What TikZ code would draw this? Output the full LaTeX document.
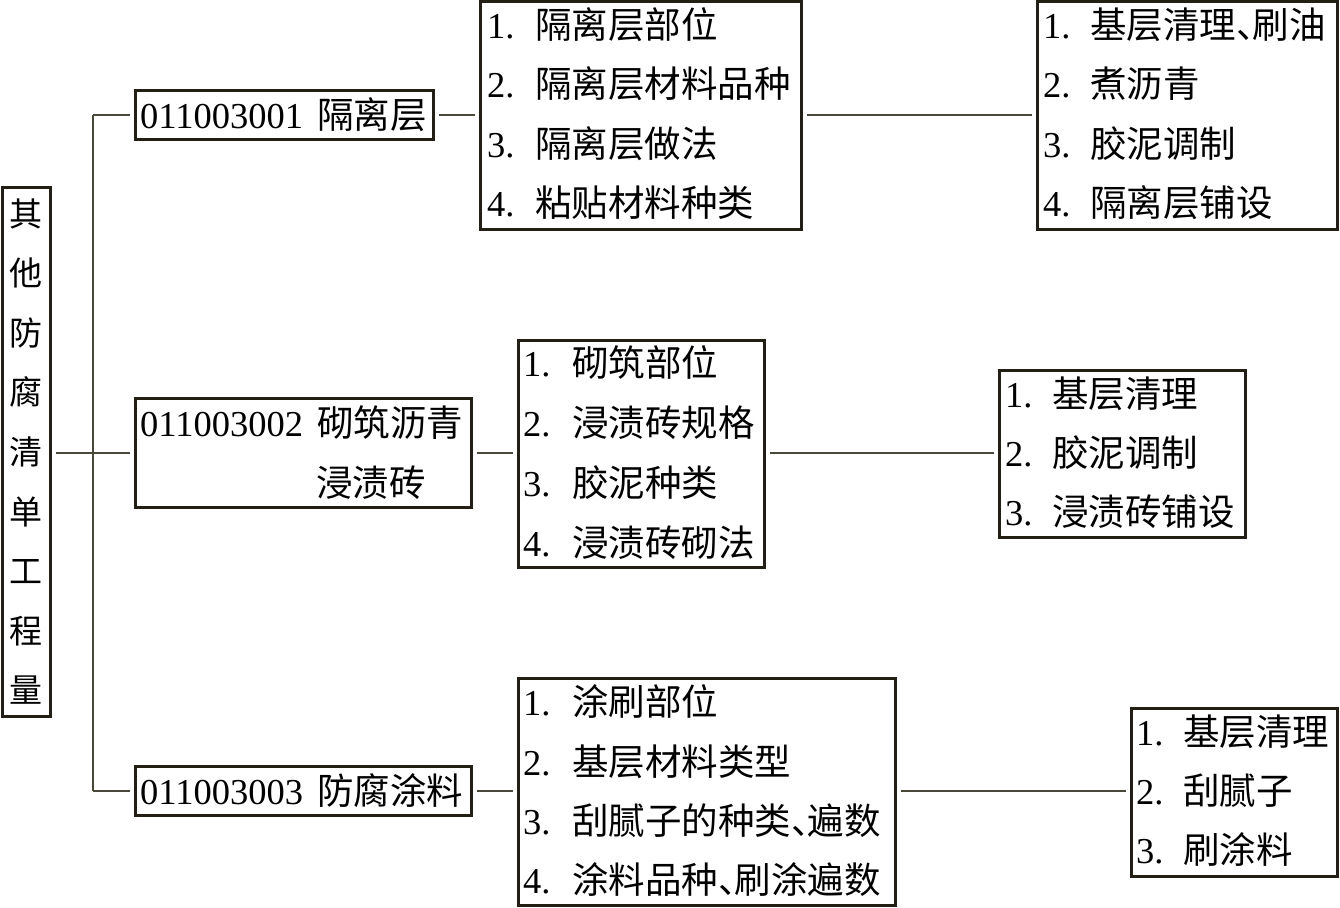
\documentclass[tikz,border=0pt]{standalone}
\usepackage{fontspec}
\setmainfont{Liberation Serif}
\newfontfamily\cjk{Noto Sans CJK SC}
\definecolor{boxc}{HTML}{231F14}
\definecolor{linec}{HTML}{4A4838}
\newcommand{\fs}{\fontsize{36.5pt}{59.6pt}\selectfont}
\newcommand{\dun}{\makebox[0.45em][l]{、}}
\tikzset{
  box/.style={draw=boxc, line width=3pt, inner sep=0pt, rectangle},
  conn/.style={draw=linec, line width=1.5pt, shorten <=4pt, shorten >=4pt},
  conn0/.style={draw=linec, line width=1.5pt},
  txt/.style={anchor=west, inner sep=0pt, font=\fs, text height=30pt, text depth=4pt},
}
\newcommand{\itm}[3]{\makebox[#1][l]{#2}{\cjk #3}}
\begin{document}
\begin{tikzpicture}[x=1pt,y=-1pt]
\useasboundingbox (0,0) rectangle (1340,907);
% root
\node[box, minimum width=48pt, minimum height=529pt, align=center,
  font={\fontsize{33pt}{59.6pt}\selectfont\cjk}] (root) at (26,451.5)
  {其\\他\\防\\腐\\清\\单\\工\\程\\量};
% level 1
\node[box, minimum width=298pt, minimum height=49pt] (b1) at (284,115) {};
\node[txt] (b1t) at (140,115) {011003001\hspace{14pt}{\cjk 隔离层}};
\node[box, minimum width=336pt, minimum height=109pt] (b2) at (303,453) {};
\node[txt] (b2t1) at (140,423) {011003002\hspace{14pt}{\cjk 砌筑沥青}};
\node[txt] (b2t2) at (316,483) {\cjk 浸渍砖};
\node[box, minimum width=336pt, minimum height=49pt] (b3) at (303,791) {};
\node[txt] (b3t) at (140,791) {011003003\hspace{14pt}{\cjk 防腐涂料}};
% list A
\node[box, minimum width=321pt, minimum height=227pt] (A) at (640.5,115.5) {};
\node[txt] (a1) at (487,25)  {\itm{48pt}{1.}{隔离层部位}};
\node[txt] (a2) at (487,84)  {\itm{48pt}{2.}{隔离层材料品种}};
\node[txt] (a3) at (487,144) {\itm{48pt}{3.}{隔离层做法}};
\node[txt] (a4) at (487,203) {\itm{48pt}{4.}{粘贴材料种类}};
% list B
\node[box, minimum width=300pt, minimum height=227pt] (B) at (1187,115.5) {};
\node[txt] (bb1) at (1043,25)  {\itm{47pt}{1.}{基层清理\dun 刷油}};
\node[txt] (bb2) at (1043,84)  {\itm{47pt}{2.}{煮沥青}};
\node[txt] (bb3) at (1043,144) {\itm{47pt}{3.}{胶泥调制}};
\node[txt] (bb4) at (1043,203) {\itm{47pt}{4.}{隔离层铺设}};
% list C
\node[box, minimum width=246pt, minimum height=227pt] (C) at (641,453.5) {};
\node[txt] (c1) at (523,363) {\itm{49pt}{1.}{砌筑部位}};
\node[txt] (c2) at (523,423) {\itm{49pt}{2.}{浸渍砖规格}};
\node[txt] (c3) at (523,483) {\itm{49pt}{3.}{胶泥种类}};
\node[txt] (c4) at (523,543) {\itm{49pt}{4.}{浸渍砖砌法}};
% list D
\node[box, minimum width=246pt, minimum height=167pt] (D) at (1122,453.5) {};
\node[txt] (d1) at (1005,394) {\itm{47pt}{1.}{基层清理}};
\node[txt] (d2) at (1005,453) {\itm{47pt}{2.}{胶泥调制}};
\node[txt] (d3) at (1005,512) {\itm{47pt}{3.}{浸渍砖铺设}};
% list E
\node[box, minimum width=377pt, minimum height=227pt] (E) at (706.5,791.5) {};
\node[txt] (e1) at (523,702) {\itm{49pt}{1.}{涂刷部位}};
\node[txt] (e2) at (523,762) {\itm{49pt}{2.}{基层材料类型}};
\node[txt] (e3) at (523,821) {\itm{49pt}{3.}{刮腻子的种类\dun 遍数}};
\node[txt] (e4) at (523,880) {\itm{49pt}{4.}{涂料品种\dun 刷涂遍数}};
% list F
\node[box, minimum width=206pt, minimum height=168pt] (F) at (1234,792) {};
\node[txt] (f1) at (1136,732) {\itm{47pt}{1.}{基层清理}};
\node[txt] (f2) at (1136,791) {\itm{47pt}{2.}{刮腻子}};
\node[txt] (f3) at (1136,850) {\itm{47pt}{3.}{刷涂料}};
% connectors
\coordinate (t1) at (93,115);
\coordinate (t3) at (93,791);
\draw[conn0, shorten >=4pt] (t1) -- (b1.west);
\draw[conn0] (t1) -- (t3);
\draw[conn0, shorten >=4pt] (t3) -- (b3.west);
\draw[conn] (root.east|-b2.west) -- (b2.west);
\draw[conn] (b1.east) -- (b1.east-|A.west);
\draw[conn] (A.east|-b1.east) -- (b1.east-|B.west);
\draw[conn] (b2.east) -- (b2.east-|C.west);
\draw[conn] (C.east|-b2.east) -- (b2.east-|D.west);
\draw[conn] (b3.east) -- (b3.east-|E.west);
\draw[conn] (E.east|-b3.east) -- (b3.east-|F.west);
\end{tikzpicture}
\end{document}
